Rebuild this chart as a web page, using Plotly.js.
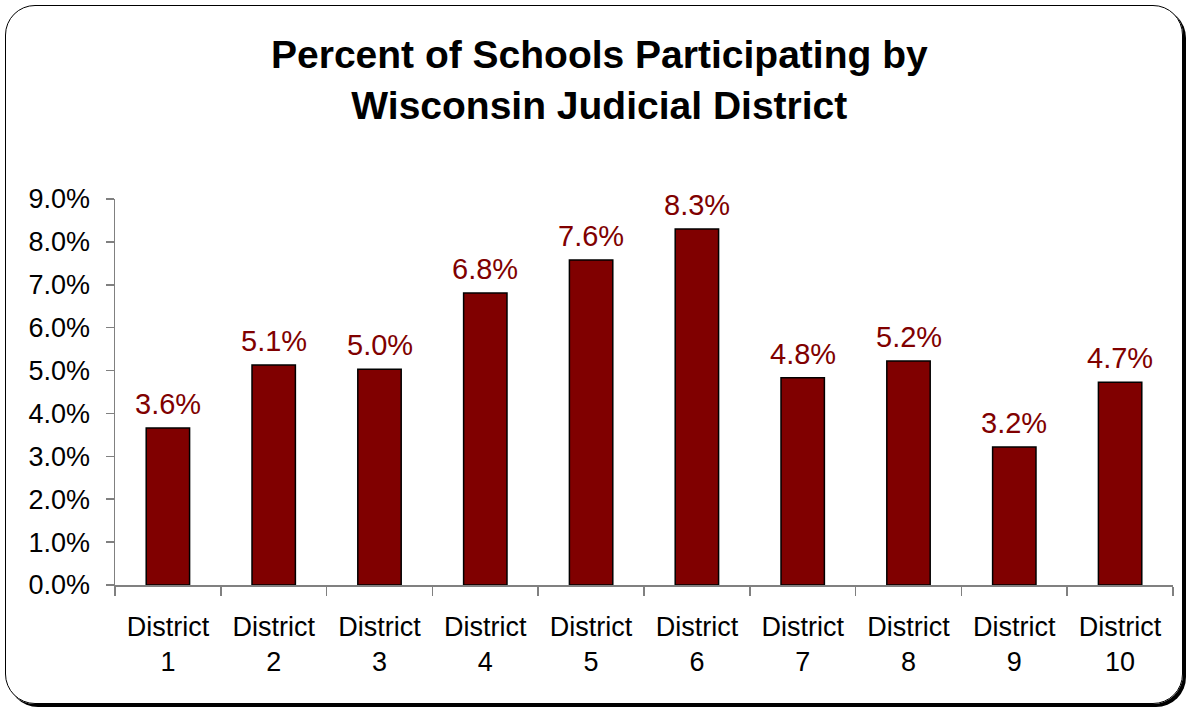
<!DOCTYPE html>
<html>
<head>
<meta charset="utf-8">
<script src="https://cdn.plot.ly/plotly-3.0.1.min.js"></script>
<style>
html,body{margin:0;padding:0;background:#fff;}
#wrap{position:relative;width:1188px;height:709px;overflow:hidden;}
#chart{position:absolute;left:0;top:0;width:1188px;height:709px;}
#frame{position:absolute;left:5px;top:5px;width:1176px;height:697px;border:1.5px solid #000;border-radius:30px;box-shadow:3px 3px 0 #000;pointer-events:none;}
</style>
</head>
<body>
<div id="wrap">
<div id="chart"></div>
<div id="frame"></div>
</div>
<script>
const categories = ["District<br>1","District<br>2","District<br>3","District<br>4","District<br>5","District<br>6","District<br>7","District<br>8","District<br>9","District<br>10"];
const values = [0.0366,0.0513,0.0503,0.0681,0.0758,0.0830,0.0483,0.0522,0.0322,0.0473];
const labels = ["3.6%","5.1%","5.0%","6.8%","7.6%","8.3%","4.8%","5.2%","3.2%","4.7%"];
const titleText = "<b>Percent of Schools Participating by<br>Wisconsin Judicial District</b>";
const yTickFormat = ".1%";

const FONT = "Liberation Sans, Arial, sans-serif";
const annotations = categories.map((c,i)=>({
  x:c, y:values[i], xref:'x', yref:'y', text:labels[i], showarrow:false,
  yanchor:'bottom', yshift:6, font:{family:FONT,size:29,color:'#800000'}
}));
annotations.push({
  xref:'paper', yref:'paper', x:0.458, y:1.435, xanchor:'center', yanchor:'top',
  text:titleText, showarrow:false, font:{family:FONT,size:39,color:'#000'}
});

const trace = {
  type:'bar', x:categories, y:values,
  marker:{color:'#800000', line:{color:'#000', width:1.5}},
  hoverinfo:'skip'
};

const layout = {
  width:1188, height:709,
  margin:{l:115, r:15, t:199, b:124},
  paper_bgcolor:'rgba(0,0,0,0)', plot_bgcolor:'rgba(0,0,0,0)',
  bargap:0.59,
  showlegend:false,
  font:{family:FONT, size:27, color:'#000'},
  xaxis:{type:'category', showline:true, linecolor:'#808080', linewidth:1.5,
    ticks:'outside', tickson:'boundaries', ticklen:9, tickcolor:'#808080', tickwidth:1.5,
    showgrid:false, zeroline:false, tickfont:{family:FONT,size:27,color:'#000'}, ticklabelstandoff:17},
  yaxis:{range:[0,0.09], dtick:0.01, tick0:0, tickformat:yTickFormat, showline:true, linecolor:'#808080', linewidth:1.5,
    ticks:'outside', ticklen:8, tickcolor:'#808080', tickwidth:1.5, showgrid:false, zeroline:false,
    tickfont:{family:FONT,size:27,color:'#000'}, ticklabelstandoff:10},
  annotations:annotations
};

Plotly.newPlot('chart',[trace],layout,{displayModeBar:false, staticPlot:true});
</script>
</body>
</html>
